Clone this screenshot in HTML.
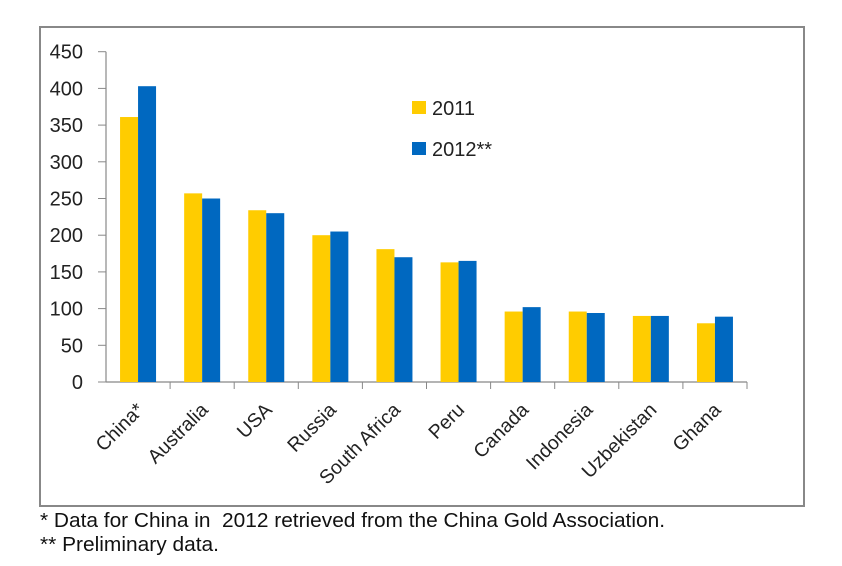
<!DOCTYPE html>
<html><head><meta charset="utf-8"><style>
body{margin:0;background:#fff;font-family:"Liberation Sans",sans-serif}
svg{display:block}
</style></head><body>
<svg width="842" height="566" xmlns="http://www.w3.org/2000/svg">
<rect x="40" y="27" width="764" height="479" fill="#fff" stroke="#888" stroke-width="2"/>
<g id="plot"></g>
<text x="40" y="527" font-size="20" fill="#111" textLength="625" lengthAdjust="spacingAndGlyphs" xml:space="preserve">* Data for China in  2012 retrieved from the China Gold Association.</text>
<text x="40" y="551" font-size="20" fill="#111" textLength="179" lengthAdjust="spacingAndGlyphs">** Preliminary data.</text>
</svg>
<script>
const categories=["China*","Australia","USA","Russia","South Africa","Peru","Canada","Indonesia","Uzbekistan","Ghana"];
const values2011=[361,257,234,200,181,163,96,96,90,80];
const values2012=[403,250,230,205,170,165,102,94,90,89];
const yTicks=[0,50,100,150,200,250,300,350,400,450];
const seriesNames=["2011","2012**"];
const NS="http://www.w3.org/2000/svg";
const g=document.getElementById('plot');
const x0=106,x1=747,y0=382,yTop=51.7,yMax=450;
const bw=(x1-x0)/categories.length;
const y=v=>y0-(v/yMax)*(y0-yTop);
function el(t,a){const e=document.createElementNS(NS,t);for(const k in a)e.setAttribute(k,a[k]);g.appendChild(e);return e;}
let ax=el('line',{x1:x0,y1:yTop,x2:x0,y2:y0,stroke:'#888','stroke-width':1.2});


let bx=el('line',{x1:x0,y1:y0,x2:x1,y2:y0,stroke:'#888','stroke-width':1.2});


yTicks.forEach(t=>{
 const l=el('line',{x1:x0-8,y1:y(t),x2:x0,y2:y(t),stroke:'#888'});
 
 
 const tx=el('text',{x:x0-23,y:y(t)+7,'text-anchor':'end','font-size':20,fill:'#222'});
 tx.textContent=t;
 
 
});
categories.forEach((c,i)=>{
 const l=el('line',{x1:x0+bw*(i+1),y1:y0,x2:x0+bw*(i+1),y2:y0+7,stroke:'#888'});
 
 
 const cx=x0+bw*(i+0.5);
 const r1=el('rect',{x:cx-18,y:y(values2011[i]),width:18,height:y0-y(values2011[i]),fill:'#FFCC00'});
 
 
 const r2=el('rect',{x:cx,y:y(values2012[i]),width:18,height:y0-y(values2012[i]),fill:'#0068C0'});
 
 
 const tx=el('text',{x:cx+7,y:y0+29,'text-anchor':'end','font-size':19.5,fill:'#222',transform:`rotate(-45 ${cx+7} ${y0+29})`});
 tx.textContent=c;
 
 
});
const colors=['#FFCC00','#0068C0'];
seriesNames.forEach((s,i)=>{
 const r=el('rect',{x:412,y:101+i*41,width:14,height:13,fill:colors[i]});
 
 
 const t=el('text',{x:432,y:115+i*41,'font-size':20,fill:'#222'});
 t.textContent=s;
 
 
});
</script>
</body></html>
